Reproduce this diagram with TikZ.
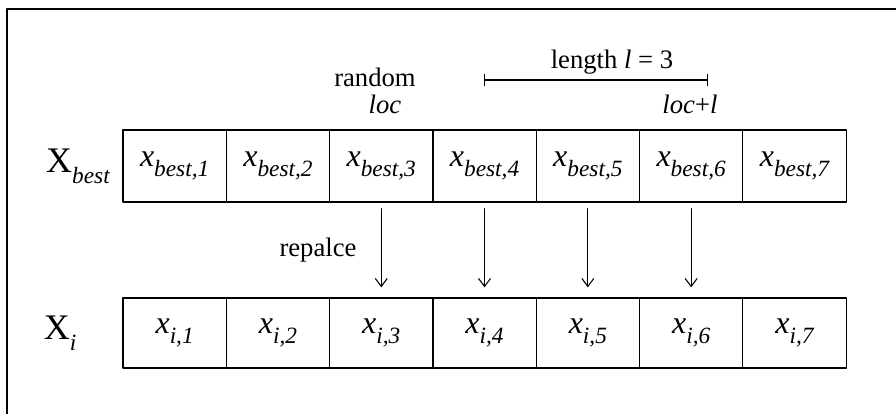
\documentclass[tikz,border=0pt]{standalone}
\usepackage{amsmath}
\usepackage{fontspec}
\setmainfont{Liberation Serif}
\usetikzlibrary{arrows.meta,positioning}
\tikzset{
 chrom/.style={x=.75pt,y=-.75pt,line cap=round,line join=round},
 frame/.style={draw=black,line width=1.5pt},
 gene/.style={rectangle,draw=black,line width=.9pt,inner sep=0pt,outer sep=0pt,
   minimum width=77.5pt,minimum height=54pt,font=\fontsize{24}{26}\selectfont},
 genei/.style={gene,minimum height=52.5pt},
 vecname/.style={font=\fontsize{27}{30}\selectfont,inner sep=0pt},
 note/.style={font=\fontsize{20}{23}\selectfont,inner sep=0pt},
 swap/.style={draw=black,line width=.8pt,-{Straight Barb[length=6pt,width=9pt]},
   shorten <=5pt,shorten >=8pt},
 span/.style={draw=black,line width=.8pt,{Bar[width=9pt]}-{Bar[width=9pt]}}
}
\newcommand{\lowidx}[1]{\raisebox{-.3em}{\fontsize{17.5}{20}\selectfont\itshape #1}}
\newcommand{\bestx}[1]{\textit{x}\lowidx{best,#1}}
\newcommand{\curx}[1]{\textit{x}\lowidx{i,#1}}
\begin{document}
\begin{tikzpicture}[chrom]
 \useasboundingbox (0,0) rectangle (896,414);
 \draw[frame] (7,414) -- (7,9) -- (896,9);
 % the two vectors
 \foreach \i in {1,...,7}{
   \node[gene] (b\i) at ({123+103.3*(\i-.5)},166) {\bestx{\i}};
   \node[genei] (c\i) at ({123+103.3*(\i-.5)},333) {\curx{\i}};
 }
 \node[vecname] (Xb) at (78,166) {X\lowidx{best}};
 \node[vecname] (Xi) at (60,333) {X\lowidx{i}};
 % segment copied over
 \foreach \i in {3,...,6}{\draw[swap] (b\i.south) -- (c\i.north);}
 \node[note] (rep) at (318,250) {repalce};
 \node[note] (rnd) at (375,77) {random};
 \node[note] (loc) at (385,104) {\textit{loc}};
 \node[note] (locl) at (690,104) {\textit{loc}+\textit{l}};
 \coordinate (segL) at (484,80);
 \coordinate (segR) at (708,80);
 \draw[span] (segL) -- (segR);
 \node[note] (len) at (612,62) {length \textit{l} = 3};
\end{tikzpicture}
\end{document}
